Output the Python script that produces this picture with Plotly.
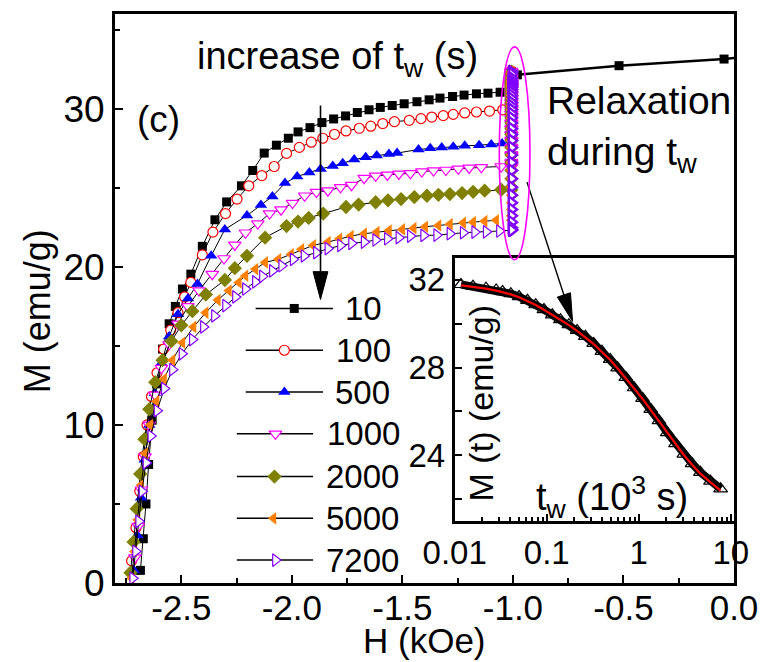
import plotly.graph_objects as go

# ---------------- data ----------------
tw_labels = ["10", "100", "500", "1000", "2000", "5000", "7200"]

H_10 = [-2.685, -2.672, -2.660, -2.648, -2.632, -2.612, -2.585, -2.555, -2.527, -2.495,
        -2.457, -2.405, -2.348, -2.295, -2.228, -2.177, -2.125, -2.070, -2.016, -1.972,
        -1.918, -1.864, -1.811, -1.757, -1.704, -1.651, -1.600, -1.546, -1.492, -1.434,
        -1.379, -1.330, -1.273, -1.221, -1.165, -1.113, -1.058]
M_10 = [0.8, 2.8, 5.0, 7.5, 10.3, 12.6, 14.8, 16.4, 17.5, 18.6,
        19.54, 21.30, 22.98, 24.11, 25.13, 26.10, 27.20, 27.70, 28.14, 28.54,
        28.81, 29.13, 29.36, 29.55, 29.77, 29.94, 30.09, 30.21, 30.32, 30.45,
        30.57, 30.68, 30.78, 30.87, 30.95, 30.99, 31.05]

H_100 = [-2.725, -2.705, -2.688, -2.672, -2.655, -2.635, -2.610, -2.580, -2.548, -2.515, -2.485,
         -2.457, -2.405, -2.357, -2.300, -2.248, -2.195, -2.136, -2.080, -2.024, -1.966,
         -1.912, -1.860, -1.807, -1.755, -1.695, -1.643, -1.589, -1.536, -1.469, -1.416,
         -1.367, -1.315, -1.270, -1.218, -1.165, -1.106, -1.046]
M_100 = [1.4, 3.5, 5.8, 8.0, 10.0, 11.8, 13.3, 14.8, 16.0, 17.1, 18.1,
         19.02, 20.76, 22.20, 23.37, 24.29, 25.13, 25.78, 26.35, 27.18, 27.56,
         27.89, 28.14, 28.39, 28.60, 28.77, 28.90, 29.07, 29.19, 29.27, 29.38,
         29.48, 29.57, 29.65, 29.74, 29.80, 29.86, 29.94]

H_500 = [-2.715, -2.698, -2.682, -2.665, -2.645, -2.620, -2.590, -2.555, -2.515, -2.470,
         -2.427, -2.365, -2.303, -2.203, -2.140, -2.088, -2.031, -1.976, -1.921, -1.870,
         -1.815, -1.770, -1.718, -1.666, -1.616, -1.561, -1.524, -1.427, -1.374, -1.322,
         -1.270, -1.218, -1.153, -1.098, -1.049]
M_500 = [0.8, 3.0, 5.4, 7.8, 10.0, 12.0, 13.9, 15.6, 17.0, 18.0,
         18.92, 20.70, 22.37, 23.25, 23.92, 24.46, 25.30, 25.72, 25.97, 26.20,
         26.38, 26.55, 26.80, 26.93, 27.04, 27.14, 27.20, 27.43, 27.50, 27.56,
         27.60, 27.66, 27.70, 27.75, 27.81]

H_1000 = [-2.710, -2.695, -2.680, -2.664, -2.645, -2.620, -2.590, -2.555, -2.515, -2.470, -2.420,
          -2.360, -2.307, -2.258, -2.210, -2.154, -2.101, -2.049, -1.997, -1.942, -1.889,
          -1.837, -1.780, -1.730, -1.673, -1.621, -1.568, -1.516, -1.464, -1.412, -1.359,
          -1.303, -1.247, -1.198, -1.143, -1.053]
M_1000 = [1.6, 3.6, 5.9, 8.0, 10.0, 11.9, 13.6, 15.1, 16.4, 17.5, 18.5,
          19.54, 20.53, 21.39, 22.16, 22.74, 23.37, 23.62, 24.04, 24.50, 24.73,
          24.82, 25.03, 25.17, 25.61, 25.76, 25.82, 25.88, 25.92, 26.03, 26.09,
          26.13, 26.20, 26.26, 26.30, 26.35]

H_2000 = [-2.730, -2.716, -2.702, -2.686, -2.667, -2.645, -2.618, -2.585, -2.545, -2.500, -2.450,
          -2.389, -2.303, -2.258, -2.203, -2.121, -2.024, -1.972, -1.924, -1.858, -1.755,
          -1.698, -1.621, -1.565, -1.506, -1.446, -1.389, -1.337, -1.285, -1.230, -1.180,
          -1.128, -1.053]
M_2000 = [0.65, 2.6, 4.7, 6.9, 9.1, 11.0, 12.7, 14.1, 15.3, 16.3, 17.2,
          18.25, 19.17, 19.92, 20.70, 21.85, 22.58, 22.87, 23.10, 23.37, 23.79,
          23.94, 24.09, 24.21, 24.29, 24.42, 24.50, 24.56, 24.61, 24.67, 24.75,
          24.82, 24.88]

H_5000 = [-2.725, -2.712, -2.698, -2.682, -2.663, -2.640, -2.612, -2.578, -2.540, -2.495, -2.445,
          -2.390, -2.335, -2.285,
          -2.240, -2.210, -2.165, -2.121, -2.061, -2.004, -1.957, -1.904, -1.837, -1.785,
          -1.733, -1.673, -1.616, -1.561, -1.501, -1.449, -1.397, -1.337, -1.285, -1.225,
          -1.180, -1.128, -1.076]
M_5000 = [0.3, 2.0, 4.0, 6.2, 8.2, 10.0, 11.5, 12.9, 14.1, 15.2, 16.2,
          17.1, 17.9, 18.5,
          19.02, 19.44, 19.86, 20.28, 20.48, 20.80, 21.11, 21.36, 21.57, 21.78,
          21.95, 22.10, 22.20, 22.30, 22.37, 22.45, 22.54, 22.62, 22.70, 22.79,
          22.83, 22.89, 22.95]

H_7200 = [-2.720, -2.707, -2.693, -2.678, -2.660, -2.638, -2.610, -2.577, -2.540, -2.497, -2.450,
          -2.400, -2.350, -2.300, -2.255,
          -2.210, -2.165, -2.133, -2.088, -2.046, -1.994, -1.945, -1.889, -1.837, -1.780,
          -1.730, -1.673, -1.621, -1.568, -1.516, -1.464, -1.404, -1.345, -1.285, -1.225,
          -1.173, -1.121, -1.061, -1.001]
M_7200 = [0.3, 2.0, 3.9, 5.8, 7.6, 9.3, 10.9, 12.3, 13.5, 14.5, 15.4,
          16.2, 16.9, 17.55, 18.1,
          18.6, 19.05, 19.40, 19.75, 20.07, 20.48, 20.69, 20.90, 21.16, 21.36,
          21.49, 21.57, 21.70, 21.78, 21.85, 21.95, 21.99, 22.01, 22.10, 22.16,
          22.20, 22.22, 22.27, 22.33]

H_series = [H_10, H_100, H_500, H_1000, H_2000, H_5000, H_7200]
M_series = [M_10, M_100, M_500, M_1000, M_2000, M_5000, M_7200]

# field at which the sweep is held during t_w
H_hold = [-1.007, -1.007, -1.007, -1.007, -1.007, -1.008, -1.006]

# initial branch from 0 to -1 kOe
H_init = [0.03, -0.045, -0.52, -0.98]
M_init = [33.27, 33.15, 32.73, 32.15]

# relaxation M(t) during waiting at -1 kOe (t in 10^3 s)
t_relax = [0.0015, 0.003, 0.006, 0.0117, 0.0158, 0.0219, 0.0282, 0.0331, 0.0407, 0.0501,
           0.0617, 0.0759, 0.0933, 0.115, 0.141, 0.174, 0.214, 0.263, 0.324, 0.398,
           0.490, 0.589, 0.724, 0.891, 1.10, 1.35, 1.66, 2.04, 2.51, 3.09,
           3.80, 4.68, 6.03, 7.76]
M_relax = [32.35, 32.2, 31.95, 31.78, 31.70, 31.61, 31.53, 31.46, 31.36, 31.23,
           31.06, 30.86, 30.64, 30.40, 30.18, 29.95, 29.69, 29.42, 29.10, 28.74,
           28.37, 27.99, 27.55, 27.08, 26.60, 26.10, 25.58, 25.04, 24.54, 24.06,
           23.63, 23.23, 22.83, 22.48]
M_fit = [32.30, 32.15, 31.92, 31.74, 31.68, 31.59, 31.50, 31.43, 31.33, 31.20,
         31.04, 30.85, 30.63, 30.40, 30.17, 29.93, 29.67, 29.39, 29.07, 28.71,
         28.34, 27.96, 27.52, 27.05, 26.57, 26.07, 25.55, 25.01, 24.50, 24.02,
         23.58, 23.17, 22.77, 22.40]

# ---------------- styles / layout ----------------
W, HGT = 769, 662
L, R, T, B = 115, 29, 11, 79
PW, PH = W - L - R, HGT - T - B
XR, YR = [-2.8, 0.0], [0.0, 36.0]
FONT = "Liberation Sans, Arial, sans-serif"

symbols = ["square", "circle-open", "triangle-up", "triangle-down-open", "diamond",
           "triangle-left", "triangle-right-open"]
colors = ["#000000", "#FF0000", "#0000FF", "#FF00FF", "#808000", "#FF8000", "#8000FF"]
msizes = [9, 10, 11, 11, 11, 11, 11]


def px_x(px):
    return (px - L) / PW


def px_y(py):
    return (HGT - B - py) / PH


def dx(px):
    return XR[0] + (px - L) / PW * (XR[1] - XR[0])


def dy(py):
    return YR[0] + (HGT - B - py) / PH * (YR[1] - YR[0])


def mk(i, lw=1.2):
    sym = symbols[i]
    if sym.endswith("-open"):
        # hollow symbol drawn with a white interior
        return dict(symbol=sym[:-5], color="white", size=msizes[i],
                    line=dict(color=colors[i], width=lw))
    return dict(symbol=sym, color=colors[i], size=msizes[i], line=dict(width=0))


fig = go.Figure()

# initial branch
fig.add_trace(go.Scatter(x=H_init, y=M_init, mode="lines+markers",
                         line=dict(color="black", width=2.5),
                         marker=dict(symbol="square", color="black", size=9),
                         showlegend=False, xaxis="x", yaxis="y"))

for i in range(7):
    fig.add_trace(go.Scatter(x=H_series[i], y=M_series[i], mode="lines+markers",
                             line=dict(color="black", width=1), marker=mk(i),
                             showlegend=False, xaxis="x", yaxis="y"))
    end_m = M_series[i][-1]
    bar_y = [m for m in M_relax if m >= end_m] + [end_m]
    fig.add_trace(go.Scatter(x=[H_hold[i]] * len(bar_y), y=bar_y, mode="markers",
                             marker=mk(i, lw=2.3), showlegend=False, xaxis="x", yaxis="y"))

# inset: relaxation data and fit
ti = [t for t in t_relax if t >= 0.01]
mi = [m for t, m in zip(t_relax, M_relax) if t >= 0.01]
fi = [m for t, m in zip(t_relax, M_fit) if t >= 0.01]
fig.add_trace(go.Scatter(x=ti, y=mi, mode="lines+markers",
                         line=dict(color="black", width=8),
                         marker=dict(symbol="triangle-up-open", size=12, color="black",
                                     line=dict(color="black", width=1.2)),
                         showlegend=False, xaxis="x2", yaxis="y2"))
fig.add_trace(go.Scatter(x=ti, y=fi, mode="lines", line=dict(color="#FF0000", width=2.2),
                         showlegend=False, xaxis="x2", yaxis="y2"))

# ---------------- manual legend ----------------
leg_row_y = [307, 349, 391, 433, 476, 518, 560]
leg_line_x0 = [257, 247, 247, 238, 238, 238, 238]
leg_line_x1 = [335, 325, 325, 315, 315, 315, 315]
leg_mark_x = [296, 286, 286, 277, 276, 275, 277]
leg_text_x = [345, 336, 335, 327, 326, 326, 326]

shapes = []
annotations = []
for i in range(7):
    shapes.append(dict(type="line", xref="paper", yref="paper", layer="below",
                       x0=px_x(leg_line_x0[i]), x1=px_x(leg_line_x1[i]),
                       y0=px_y(leg_row_y[i]), y1=px_y(leg_row_y[i]),
                       line=dict(color="black", width=1.5)))
    fig.add_trace(go.Scatter(x=[dx(leg_mark_x[i])], y=[dy(leg_row_y[i])], mode="markers",
                             marker=mk(i), showlegend=False, xaxis="x", yaxis="y"))
    annotations.append(dict(text=tw_labels[i], xref="paper", yref="paper",
                            x=px_x(leg_text_x[i]), y=px_y(leg_row_y[i]),
                            xanchor="left", yanchor="middle", showarrow=False,
                            font=dict(size=33, color="black", family=FONT)))


def arrow(tail, tip, hlen, hw, width):
    (x0, y0), (x1, y1) = tail, tip
    vx, vy = x1 - x0, y1 - y0
    n = (vx ** 2 + vy ** 2) ** 0.5
    ux, uy = vx / n, vy / n
    bx, by = x1 - ux * hlen, y1 - uy * hlen
    px, py = -uy, ux
    out = [dict(type="line", xref="paper", yref="paper",
                x0=px_x(x0), y0=px_y(y0), x1=px_x(bx), y1=px_y(by),
                line=dict(color="black", width=width))]
    p1 = (bx + px * hw, by + py * hw)
    p2 = (bx - px * hw, by - py * hw)
    path = "M {:.5f},{:.5f} L {:.5f},{:.5f} L {:.5f},{:.5f} Z".format(
        px_x(x1), px_y(y1), px_x(p1[0]), px_y(p1[1]), px_x(p2[0]), px_y(p2[1]))
    out.append(dict(type="path", xref="paper", yref="paper", path=path,
                    fillcolor="black", line=dict(color="black", width=1)))
    return out


shapes += arrow((322.5, 103), (322.5, 298), 28, 7.5, 1.6)
shapes += arrow((531, 180), (577, 320), 28, 7, 1.4)
shapes.append(dict(type="circle", xref="paper", yref="paper",
                   x0=px_x(503), x1=px_x(534), y0=px_y(258), y1=px_y(44),
                   line=dict(color="#FF00FF", width=1.6)))


def txt(text, x, y, size, xanchor="center", yanchor="middle", angle=0):
    annotations.append(dict(text=text, xref="paper", yref="paper", x=px_x(x), y=px_y(y),
                            xanchor=xanchor, yanchor=yanchor, showarrow=False,
                            textangle=angle,
                            font=dict(size=size, color="black", family=FONT)))


txt("increase of t<sub>w</sub> (s)", 196, 56, 38, xanchor="left")
txt("(c)", 159, 117, 37)
txt("Relaxation", 549, 98, 39, xanchor="left")
txt("during t<sub>w</sub>", 549, 152, 39, xanchor="left")
txt("M (emu/g)", 37, 310, 36, angle=-90)
txt("H (kOe)", 428, 662, 35, yanchor="bottom")
txt("t<sub>w</sub> (10<sup>3</sup> s)", 617, 497, 38)
txt("M (t) (emu/g)", 484, 402, 34, angle=-90)

axis_common = dict(showline=True, linewidth=3, linecolor="black", mirror=True,
                   showgrid=False, zeroline=False, ticks="inside", tickwidth=2,
                   tickcolor="black")
main_font = dict(size=35, color="black", family=FONT)
inset_font = dict(size=33, color="black", family=FONT)

inset_x0 = px_x(458)
inset_y0, inset_y1 = px_y(521), px_y(256)

fig.update_layout(
    width=W, height=HGT, margin=dict(l=L, r=R, t=T, b=B),
    paper_bgcolor="white", plot_bgcolor="white",
    font=dict(family=FONT, color="black"),
    xaxis=dict(range=XR, tickvals=[-2.5, -2.0, -1.5, -1.0, -0.5, 0.0],
               ticktext=["-2.5", "-2.0", "-1.5", "-1.0", "-0.5", "0.0"], ticklen=8,
               tickfont=main_font, ticklabelstandoff=-8,
               minor=dict(dtick=0.25, tick0=0, ticks="inside", ticklen=5, tickwidth=2,
                          tickcolor="black"),
               **axis_common),
    yaxis=dict(range=YR, tickvals=[0, 10, 20, 30], ticklen=8,
               tickfont=dict(size=37, color="black", family=FONT),
               minor=dict(dtick=5, tick0=0, ticks="inside", ticklen=5, tickwidth=2,
                          tickcolor="black"),
               **axis_common),
    xaxis2=dict(type="log", range=[-2, 1.035], domain=[inset_x0, 1.0], anchor="y2",
                tickvals=[0.01, 0.1, 1, 10], ticktext=["0.01", "0.1", "1", "10"], ticklen=7,
                tickfont=inset_font,
                minor=dict(tickvals=[k * 10 ** e for e in (-2, -1, 0) for k in range(2, 10)],
                           ticks="inside", ticklen=4, tickwidth=1.5, tickcolor="black"),
                **axis_common),
    yaxis2=dict(range=[21, 33], domain=[inset_y0, inset_y1], anchor="x2",
                tickvals=[24, 28, 32], ticklen=7, tickfont=inset_font,
                minor=dict(tickvals=[22, 26, 30], ticks="inside", ticklen=7, tickwidth=2,
                           tickcolor="black"),
                **axis_common),
    shapes=shapes, annotations=annotations,
)

fig.write_html("out.html")
